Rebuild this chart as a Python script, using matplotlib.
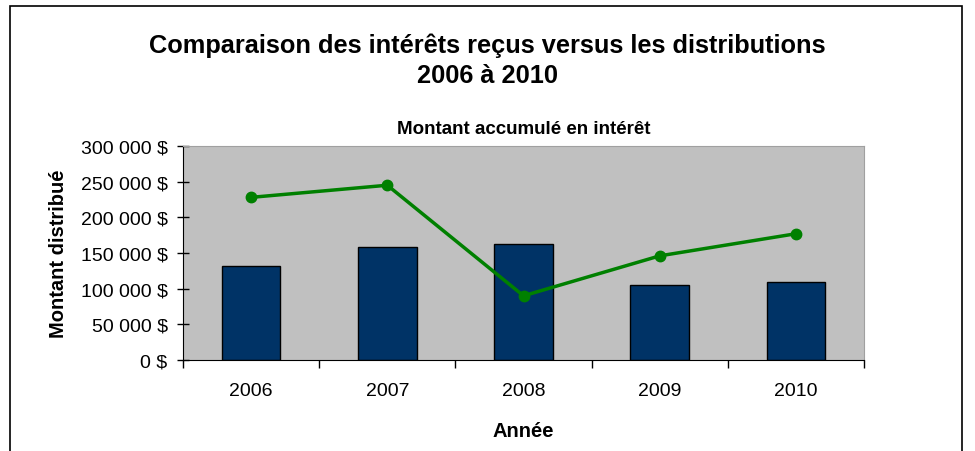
import matplotlib
matplotlib.use("Agg")
from matplotlib import pyplot
from matplotlib.patches import Rectangle
from matplotlib.ticker import FuncFormatter, FixedLocator

annees = ["2006", "2007", "2008", "2009", "2010"]
distributions = [132000, 158000, 163000, 105000, 109000]
interets = [228000, 245000, 90000, 146000, 177000]

pyplot.rcParams["font.family"] = ["Liberation Sans", "DejaVu Sans"]

fig = pyplot.figure(figsize=(9.75, 4.52), dpi=100)
ax = fig.add_axes([183 / 975, 1 - 361 / 452, (864 - 183) / 975, (361 - 147) / 452])

x = list(range(len(annees)))
ax.bar(x, distributions, width=0.43, color="#003366", edgecolor="black", linewidth=1, zorder=2)
ax.plot(x, interets, color="#008000", linewidth=2.5, marker="o", markersize=7.5, zorder=3)

ax.set_facecolor("#C0C0C0")
ax.set_xlim(-0.5, len(annees) - 0.5)
ax.set_ylim(0, 300000)
ax.set_yticks(range(0, 300001, 50000))
ax.yaxis.set_major_formatter(FuncFormatter(lambda v, p: f"{int(v):,} $".replace(",", " ")))
ax.set_xticks(x)
ax.set_xticklabels(annees)
ax.xaxis.set_minor_locator(FixedLocator([i + 0.5 for i in range(-1, len(annees))]))
ax.tick_params(axis="x", which="major", length=0, pad=16, labelsize=14)
ax.tick_params(axis="x", which="minor", length=6, direction="out", width=1)
ax.tick_params(axis="y", length=8, direction="inout", width=1, labelsize=14, pad=7)

for side in ["top", "right"]:
    ax.spines[side].set_color("#a0a0a0")
for side in ["left", "bottom"]:
    ax.spines[side].set_color("black")

ax.set_title("Montant accumulé en intérêt", fontsize=13.5, fontweight="bold", pad=9)
ax.set_xlabel("Année", fontsize=14.5, fontweight="bold", labelpad=16)
ax.set_ylabel("Montant distribué", fontsize=14.5, fontweight="bold", labelpad=9)

fig.text(0.5, 1 - 46 / 452, "Comparaison des intérêts reçus versus les distributions",
         ha="center", va="center", fontsize=18.3, fontweight="bold")
fig.text(0.5, 1 - 76 / 452, "2006 à 2010", ha="center", va="center", fontsize=18.3, fontweight="bold")

fig.patches.append(Rectangle((10 / 975, -0.1), (962 - 10) / 975, 1.1 - 7 / 452,
                             transform=fig.transFigure, fill=False, edgecolor="black", linewidth=1.2))

fig.savefig("out.png", dpi=100)
